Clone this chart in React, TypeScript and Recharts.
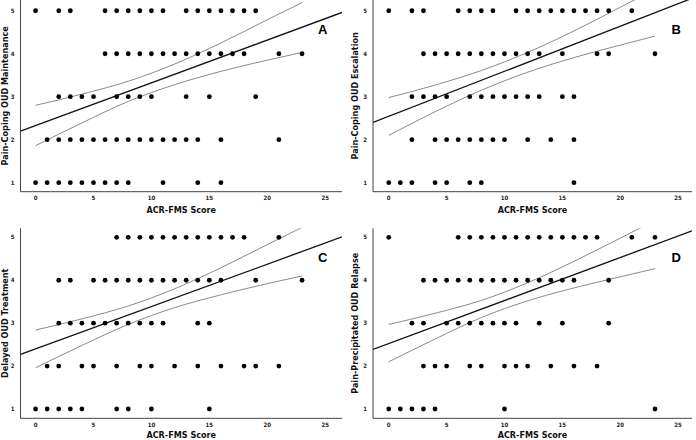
import { ComposedChart, Scatter, Line, XAxis, YAxis, Label } from "recharts";

const NARROW = '"Liberation Sans Narrow", "DejaVu Sans Condensed", "Liberation Sans", Arial, sans-serif';

const X_TICKS = [0, 5, 10, 15, 20, 25];
const Y_TICKS = [1, 2, 3, 4, 5];
const CI_X = [0, 4, 8, 12, 16, 20, 23];

// ACR-FMS scores seen at each response level (1..5)
const aLevels = [
  [0, 1, 2, 3, 4, 5, 6, 7, 8, 11, 14, 16],
  [1, 2, 3, 4, 5, 6, 7, 8, 9, 10, 11, 12, 13, 14, 16, 21],
  [2, 3, 4, 5, 7, 8, 9, 10, 13, 15, 19],
  [6, 7, 8, 9, 10, 11, 12, 13, 14, 15, 16, 17, 18, 21, 23],
  [0, 2, 3, 6, 7, 8, 9, 10, 11, 13, 14, 15, 16, 17, 18, 19],
];
const bLevels = [
  [0, 1, 2, 4, 5, 7, 8, 16],
  [2, 4, 5, 6, 7, 8, 9, 10, 12, 14, 16],
  [2, 3, 4, 5, 7, 8, 9, 10, 11, 12, 13, 15, 16],
  [3, 4, 5, 6, 7, 8, 9, 10, 11, 12, 13, 15, 18, 19, 23],
  [0, 2, 3, 6, 7, 8, 9, 11, 12, 13, 14, 15, 16, 17, 18, 19, 21],
];
const cLevels = [
  [0, 1, 2, 3, 4, 7, 8, 10, 15],
  [1, 2, 4, 5, 7, 9, 10, 12, 14, 16, 18, 19, 21],
  [2, 3, 4, 5, 6, 7, 8, 9, 10, 11, 14, 15],
  [2, 3, 5, 6, 7, 8, 9, 10, 11, 12, 13, 14, 15, 16, 19, 23],
  [7, 8, 9, 10, 11, 12, 13, 14, 15, 16, 17, 18, 21],
];
const dLevels = [
  [0, 1, 2, 3, 4, 10, 23],
  [3, 4, 5, 7, 8, 10, 11, 12, 14, 16, 18],
  [2, 3, 5, 6, 7, 8, 9, 10, 11, 13, 15, 19],
  [3, 4, 5, 6, 7, 8, 9, 10, 11, 12, 13, 14, 15, 16, 19],
  [0, 6, 7, 8, 9, 10, 11, 12, 13, 14, 15, 16, 17, 18, 21, 23],
];

// 95% CI bands, read at CI_X
const aUpper = [2.8, 3.06, 3.36, 3.76, 4.25, 4.79, 5.19];
const aLower = [1.86, 2.39, 2.89, 3.28, 3.59, 3.85, 4.03];
const bUpper = [2.98, 3.27, 3.61, 4.03, 4.53, 5.08, 5.5];
const bLower = [2.1, 2.65, 3.15, 3.57, 3.91, 4.2, 4.41];
const cUpper = [2.84, 3.1, 3.4, 3.8, 4.29, 4.83, 5.23];
const cLower = [1.96, 2.48, 2.97, 3.36, 3.66, 3.92, 4.1];
const dUpper = [2.97, 3.23, 3.53, 3.94, 4.44, 4.98, 5.39];
const dLower = [2.1, 2.63, 3.13, 3.52, 3.82, 4.08, 4.27];

// fit line end points (x, y)
const aFitX = [-1.3, 26.45];
const aFitY = [2.2, 4.96];
const bFitX = [-1.36, 26.2];
const bFitY = [2.4, 5.29];
const cFitX = [-1.3, 26.45];
const cFitY = [2.27, 5.01];
const dFitX = [-1.36, 26.2];
const dFitY = [2.39, 5.15];

const pts = (levels: number[][]) =>
  levels.flatMap((xs, i) => xs.map((x) => ({ x, y: i + 1 })));
const curve = (xs: number[], ys: number[]) => xs.map((x, i) => ({ x, y: ys[i] }));

const Dot = (p: any) => <circle cx={p.cx} cy={p.cy} r={2.4} fill="#000" />;

type PanelProps = {
  letter: string;
  yTitle: string;
  levels: number[][];
  upper: number[];
  lower: number[];
  fitX: number[];
  fitY: number[];
  left: number;
  top: number;
  marginTop: number;
  marginRight: number;
  yAxisWidth: number;
  xAxisHeight: number;
  xDomain: [number, number];
  yDomain: [number, number];
  tickGap: number;
  titleOffset: number;
  yTitleX: number;
  letterX: number;
  letterY: number;
};

function Panel(p: PanelProps) {
  return (
    <div style={{ position: "absolute", left: p.left, top: p.top, width: 348, height: 220 }}>
      <ComposedChart
        width={348}
        height={220}
        margin={{ top: p.marginTop, right: p.marginRight, bottom: 0, left: 0 }}
      >
        <XAxis
          type="number"
          dataKey="x"
          domain={p.xDomain}
          allowDataOverflow
          ticks={X_TICKS}
          interval={0}
          tickLine={false}
          tickSize={p.tickGap}
          tickMargin={0}
          height={p.xAxisHeight}
          axisLine={{ stroke: "#444" }}
          tick={{ fontSize: 6, fill: "#222", fontFamily: NARROW, fontWeight: 700 }}
        >
          <Label
            value="ACR-FMS Score"
            position="insideBottom"
            offset={p.titleOffset}
            fontSize={9}
            fontWeight={700}
            fill="#111"
            fontFamily={NARROW}
          />
        </XAxis>
        <YAxis
          type="number"
          dataKey="y"
          domain={p.yDomain}
          allowDataOverflow
          ticks={Y_TICKS}
          interval={0}
          width={p.yAxisWidth}
          tickLine={false}
          tickSize={4}
          tickMargin={2}
          axisLine={{ stroke: "#444" }}
          tick={{ fontSize: 6, fill: "#222", fontFamily: NARROW, fontWeight: 700 }}
        >
          <Label
            value={p.yTitle}
            angle={-90}
            position="insideLeft"
            offset={p.yTitleX}
            fontSize={9}
            fontWeight={700}
            fill="#111"
            fontFamily={NARROW}
            style={{ textAnchor: "middle" }}
          />
        </YAxis>
        <Scatter data={pts(p.levels)} dataKey="y" shape={Dot} isAnimationActive={false} />
        <Line
          data={curve(CI_X, p.upper)}
          dataKey="y"
          type="monotone"
          stroke="#8a8a8a"
          strokeWidth={1}
          dot={false}
          activeDot={false}
          isAnimationActive={false}
        />
        <Line
          data={curve(CI_X, p.lower)}
          dataKey="y"
          type="monotone"
          stroke="#8a8a8a"
          strokeWidth={1}
          dot={false}
          activeDot={false}
          isAnimationActive={false}
        />
        <Line
          data={curve(p.fitX, p.fitY)}
          dataKey="y"
          type="linear"
          stroke="#111"
          strokeWidth={1.3}
          dot={false}
          activeDot={false}
          isAnimationActive={false}
        />
      </ComposedChart>
      <span
        style={{
          position: "absolute",
          left: p.letterX,
          top: p.letterY,
          transform: "translate(-50%, -50%)",
          fontFamily: '"Liberation Sans", Arial, sans-serif',
          fontWeight: 700,
          fontSize: 13,
          lineHeight: 1,
          color: "#000",
        }}
      >
        {p.letter}
      </span>
    </div>
  );
}

const topRow = { top: 0, marginTop: 0, xAxisHeight: 28.3, yDomain: [0.79, 5.25] as [number, number], tickGap: 3.6, titleOffset: 6.7 };
const bottomRow = { top: 220, marginTop: 8.3, xAxisHeight: 21.7, yDomain: [0.783, 5.21] as [number, number], tickGap: 4.6, titleOffset: 2 };
const leftCol = { left: 0, marginRight: 6, yAxisWidth: 20.5, xDomain: [-1.3, 26.45] as [number, number], yTitleX: 5, letterX: 322.7 };
const rightCol = { left: 348, marginRight: 4, yAxisWidth: 25, xDomain: [-1.36, 26.2] as [number, number], yTitleX: 7.3, letterX: 328.3 };

export default function App() {
  return (
    <div
      style={{
        position: "absolute",
        left: 0,
        top: 0,
        width: 696,
        height: 440,
        background: "#fff",
        overflow: "hidden",
      }}
    >
      <Panel
        {...topRow}
        {...leftCol}
        letter="A"
        letterY={29.3}
        yTitle="Pain-Coping OUD Maintenance"
        levels={aLevels}
        upper={aUpper}
        lower={aLower}
        fitX={aFitX}
        fitY={aFitY}
      />
      <Panel
        {...topRow}
        {...rightCol}
        letter="B"
        letterY={29.3}
        yTitle="Pain-Coping OUD Escalation"
        levels={bLevels}
        upper={bUpper}
        lower={bLower}
        fitX={bFitX}
        fitY={bFitY}
      />
      <Panel
        {...bottomRow}
        {...leftCol}
        letter="C"
        letterY={37.3}
        yTitle="Delayed OUD Treatment"
        levels={cLevels}
        upper={cUpper}
        lower={cLower}
        fitX={cFitX}
        fitY={cFitY}
      />
      <Panel
        {...bottomRow}
        {...rightCol}
        letter="D"
        letterY={37.3}
        yTitle="Pain-Precipitated OUD Relapse"
        levels={dLevels}
        upper={dUpper}
        lower={dLower}
        fitX={dFitX}
        fitY={dFitY}
      />
    </div>
  );
}
